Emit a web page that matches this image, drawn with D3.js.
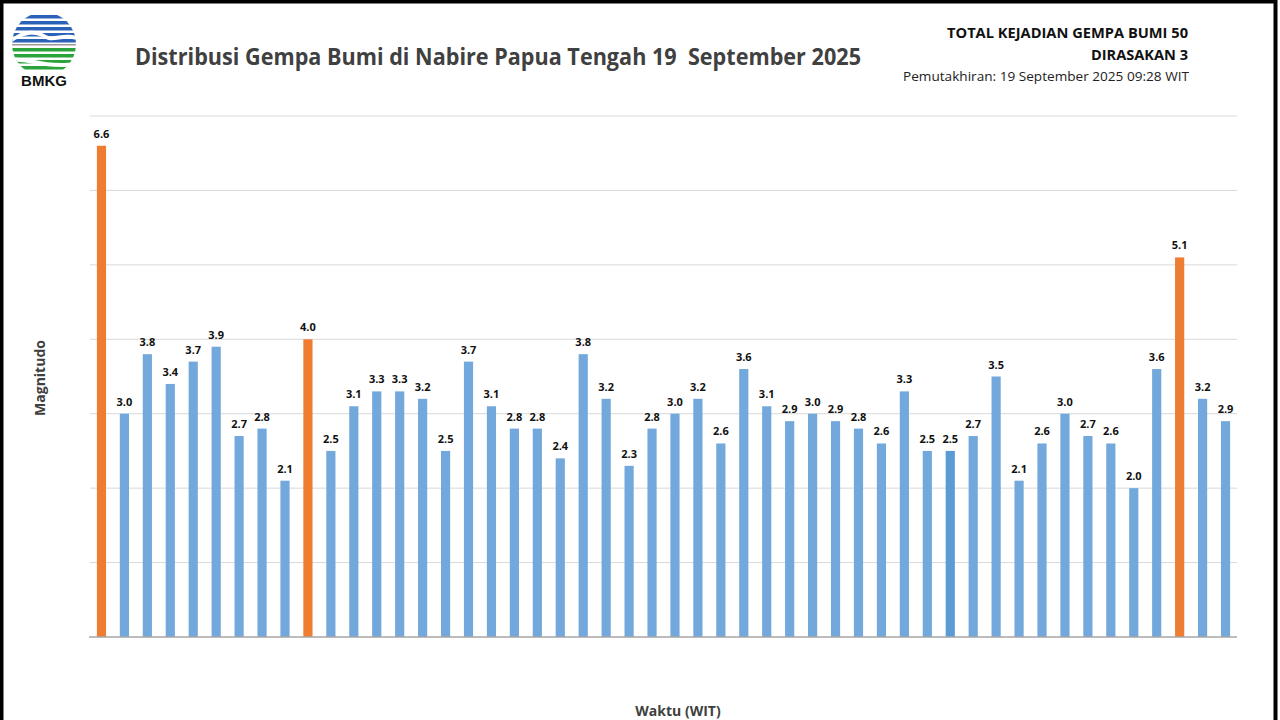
<!DOCTYPE html>
<html>
<head>
<meta charset="utf-8">
<script src="https://cdn.jsdelivr.net/npm/d3@7"></script>
<style>
  body { margin: 0; background: #fff; }
  svg { display: block; }
  text { white-space: pre; }
</style>
</head>
<body>
<div id="maincontent"></div>
<script>
// magnitudes of the 50 quakes, in time order
var magnitudes = [6.6, 3.0, 3.8, 3.4, 3.7, 3.9, 2.7, 2.8, 2.1, 4.0,
                  2.5, 3.1, 3.3, 3.3, 3.2, 2.5, 3.7, 3.1, 2.8, 2.8,
                  2.4, 3.8, 3.2, 2.3, 2.8, 3.0, 3.2, 2.6, 3.6, 3.1,
                  2.9, 3.0, 2.9, 2.8, 2.6, 3.3, 2.5, 2.5, 2.7, 3.5,
                  2.1, 2.6, 3.0, 2.7, 2.6, 2.0, 3.6, 5.1, 3.2, 2.9];
// felt quakes (dirasakan), by index
var felt = [0, 9, 47];
var yTicks = [0, 1, 2, 3, 4, 5, 6, 7];

var titleText = "Distribusi Gempa Bumi di Nabire Papua Tengah 19  September 2025";
var infoLines = ["TOTAL KEJADIAN GEMPA BUMI 50", "DIRASAKAN 3"];
var infoWidths = [241, 97];
var updateText = "Pemutakhiran: 19 September 2025 09:28 WIT";

var w = 1280, h = 720;
var font = "'Open Sans', 'Noto Sans', sans-serif";

var svg = d3.select("#maincontent").append("svg")
    .attr("width", w).attr("height", h);

svg.append("rect").attr("width", w).attr("height", h).attr("fill", "#fff");

// black frame
svg.append("rect")
    .attr("x", 1.5).attr("y", 1.5).attr("width", 1274).attr("height", 730)
    .attr("fill", "none").attr("stroke", "#000").attr("stroke-width", 4);

// scales
var x = d3.scaleBand()
    .domain(d3.range(magnitudes.length))
    .range([90, 1237])
    .paddingInner(0.6).paddingOuter(0.3);
var y = d3.scaleLinear().domain([0, 7]).range([637, 116]);

// gridlines
svg.append("g").selectAll("line")
    .data(yTicks.slice(1))
    .enter().append("line")
    .attr("x1", 90).attr("x2", 1237)
    .attr("y1", function(d) { return y(d); })
    .attr("y2", function(d) { return y(d); })
    .attr("stroke", "#d9d9d9").attr("stroke-width", 1);

// bars
svg.append("g").selectAll("rect")
    .data(magnitudes)
    .enter().append("rect")
    .attr("x", function(d, i) { return x(i); })
    .attr("width", x.bandwidth())
    .attr("y", function(d) { return y(d); })
    .attr("height", function(d) { return y(0) - y(d); })
    .attr("fill", function(d, i) {
        if (felt.indexOf(i) >= 0) return "#ef7d31";
        if (i == 37) return "#5b9bd5";
        return "#72a8db";
    });

// x axis line
svg.append("g")
    .attr("transform", "translate(0," + y(0) + ")")
    .call(d3.axisBottom(x).tickSize(0).tickFormat(""))
    .call(function(g) {
        g.select(".domain").attr("stroke", "#a6a6a6").attr("stroke-width", 1.5)
         .attr("d", "M89,0H1237");
    });

// value labels
svg.append("g").selectAll("text")
    .data(magnitudes)
    .enter().append("text")
    .text(function(d) { return d.toFixed(1); })
    .attr("x", function(d, i) { return x(i) + x.bandwidth() / 2; })
    .attr("y", function(d) { return y(d) - 8; })
    .attr("text-anchor", "middle")
    .attr("font-family", font)
    .attr("font-weight", "bold")
    .attr("font-size", "11px")
    .attr("fill", "#111");

// title
svg.append("text")
    .text(titleText)
    .attr("x", 135).attr("y", 65)
    .attr("textLength", 726).attr("lengthAdjust", "spacingAndGlyphs")
    .attr("font-family", font).attr("font-weight", "bold")
    .attr("font-size", "23px").attr("fill", "#404040");

// top right info
svg.append("g").selectAll("text")
    .data(infoLines)
    .enter().append("text")
    .text(function(d) { return d; })
    .attr("x", 1188)
    .attr("y", function(d, i) { return 38 + i * 22; })
    .attr("text-anchor", "end")
    .attr("textLength", function(d, i) { return infoWidths[i]; })
    .attr("lengthAdjust", "spacingAndGlyphs")
    .attr("font-family", font).attr("font-weight", "bold")
    .attr("font-size", "14px").attr("fill", "#111");

svg.append("text")
    .text(updateText)
    .attr("x", 1189).attr("y", 81)
    .attr("text-anchor", "end")
    .attr("textLength", 286).attr("lengthAdjust", "spacingAndGlyphs")
    .attr("font-family", font)
    .attr("font-size", "13px").attr("fill", "#222");

// axis titles
svg.append("text")
    .text("Magnitudo")
    .attr("transform", "translate(45,378) rotate(-90)")
    .attr("text-anchor", "middle")
    .attr("font-family", font).attr("font-weight", "bold")
    .attr("font-size", "14px").attr("fill", "#404040");

svg.append("text")
    .text("Waktu (WIT)")
    .attr("x", 678).attr("y", 716)
    .attr("text-anchor", "middle")
    .attr("font-family", font).attr("font-weight", "bold")
    .attr("font-size", "14px").attr("fill", "#404040");

// BMKG logo
var logo = svg.append("g").attr("transform", "translate(44,44)");
var r = 32;
logo.append("defs").append("clipPath").attr("id", "logoclip")
    .append("circle").attr("r", r);
var lg = logo.append("g").attr("clip-path", "url(#logoclip)");
// blue stripes on top half
var blueY = [-29, -23, -17, -11, -5];
lg.selectAll(".b").data(blueY).enter().append("rect")
    .attr("x", -r).attr("width", 2 * r)
    .attr("y", function(d) { return d; }).attr("height", 3.5)
    .attr("fill", "#2a62b8");
// gray middle line
lg.append("rect").attr("x", -r).attr("width", 2 * r)
    .attr("y", 0).attr("height", 1.5).attr("fill", "#9a9a9a");
// green stripes on bottom half
var greenY = [4, 10, 16, 22];
lg.selectAll(".g").data(greenY).enter().append("rect")
    .attr("x", -r).attr("width", 2 * r)
    .attr("y", function(d) { return d; }).attr("height", 3.5)
    .attr("fill", "#2aa33b");
// white wave cutting the stripes
lg.append("path")
    .attr("d", "M-32,-6 C-18,-16 -6,-14 0,-10 C8,-4 18,-12 32,-8 L32,-4 C18,-8 8,0 0,-6 C-6,-10 -18,-12 -32,-2 Z")
    .attr("fill", "#fff");
lg.append("path")
    .attr("d", "M-32,14 C-16,12 0,22 32,18 L32,22 C0,26 -16,16 -32,18 Z")
    .attr("fill", "#fff");
logo.append("text").text("BMKG")
    .attr("x", 0).attr("y", 42)
    .attr("text-anchor", "middle")
    .attr("font-family", "'Liberation Sans', Arial, sans-serif")
    .attr("font-weight", "bold").attr("font-size", "15px").attr("fill", "#111");
</script>
</body>
</html>
